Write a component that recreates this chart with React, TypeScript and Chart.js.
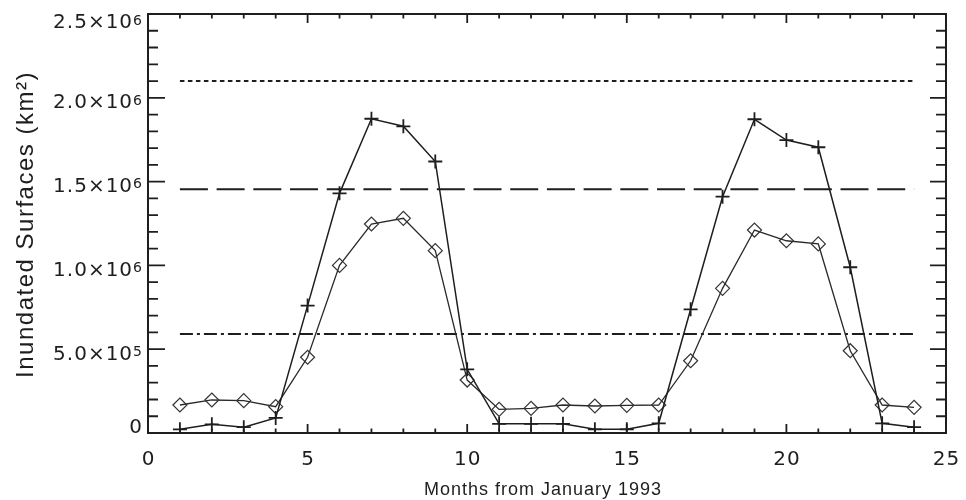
import React, { useEffect, useRef } from 'react';
import { Chart, registerables } from 'chart.js';

Chart.register(...registerables);

// ---- data ----
const months = [1, 2, 3, 4, 5, 6, 7, 8, 9, 10, 11, 12, 13, 14, 15, 16, 17, 18, 19, 20, 21, 22, 23, 24];
const plusSeries = [
  22000, 52000, 35000, 90000, 760000, 1430000, 1875000, 1830000, 1620000, 380000, 55000, 55000,
  55000, 22000, 22000, 58000, 738000, 1410000, 1872000, 1748000, 1705000, 989000, 58000, 35000,
];
const diamondSeries = [
  167000, 197000, 193000, 157000, 452000, 1000000, 1247000, 1281000, 1088000, 316000, 141000, 147000,
  167000, 161000, 165000, 167000, 431000, 863000, 1211000, 1147000, 1128000, 491000, 167000, 153000,
];
const refLevels = [2100000, 1455000, 590000];
const refRange = [1, 24];

const xTickValues = [0, 5, 10, 15, 20, 25];
const xTickLabels = ['0', '5', '10', '15', '20', '25'];
const yTickValues = [0, 500000, 1000000, 1500000, 2000000, 2500000];
const yTickLabels = ['0', '5.0×10⁵', '1.0×10⁶', '1.5×10⁶', '2.0×10⁶', '2.5×10⁶'];
const xMinorStep = 1;
const yMinorStep = 100000;
const xTitle = 'Months from January 1993';
const yTitle = 'Inundated Surfaces (km²)';

const INK = '#1e1e1e';
const SUP: Record<string, string> = {
  '⁰': '0', '¹': '1', '²': '2', '³': '3', '⁴': '4', '⁵': '5', '⁶': '6', '⁷': '7', '⁸': '8', '⁹': '9',
};

const axesPlugin = {
  id: 'idlAxes',
  beforeDatasetsDraw(chart: any) {
    const { ctx, chartArea: a, scales } = chart;
    const x = scales.x;
    const y = scales.y;
    ctx.save();
    ctx.strokeStyle = INK;
    ctx.lineWidth = 1.8;
    ctx.beginPath();
    const nx = Math.round((x.max - x.min) / xMinorStep);
    for (let i = 0; i <= nx; i++) {
      const v = x.min + i * xMinorStep;
      const px = x.getPixelForValue(v);
      const len = xTickValues.includes(v) ? 9 : 4.5;
      ctx.moveTo(px, a.bottom);
      ctx.lineTo(px, a.bottom - len);
      ctx.moveTo(px, a.top);
      ctx.lineTo(px, a.top + len);
    }
    const ny = Math.round((y.max - y.min) / yMinorStep);
    for (let i = 0; i <= ny; i++) {
      const v = y.min + i * yMinorStep;
      const py = y.getPixelForValue(v);
      const major = yTickValues.includes(v);
      ctx.moveTo(a.left, py);
      ctx.lineTo(a.left + (major ? 17 : 10), py);
      ctx.moveTo(a.right, py);
      ctx.lineTo(a.right - (major ? 16 : 10), py);
    }
    ctx.stroke();
    ctx.lineWidth = 2;
    ctx.strokeRect(a.left, a.top, a.right - a.left, a.bottom - a.top);

    ctx.fillStyle = INK;
    // x tick labels
    ctx.font = '20px "DejaVu Sans"';
    (ctx as any).letterSpacing = '1px';
    ctx.textAlign = 'center';
    ctx.textBaseline = 'alphabetic';
    xTickValues.forEach((v, i) => {
      ctx.fillText(xTickLabels[i], x.getPixelForValue(v) + 0.5, a.bottom + 31.5);
    });

    // y tick labels (mantissa + raised exponent)
    ctx.textAlign = 'left';
    const right = a.left - 5;
    yTickValues.forEach((v, i) => {
      const label = yTickLabels[i];
      const m = label.match(/^(.*?)([⁰¹²³⁴⁵⁶⁷⁸⁹]*)$/) as RegExpMatchArray;
      const mant = m[1];
      const exp = m[2].split('').map((c) => SUP[c]).join('');
      let off = 3;
      if (i === 0) off = -7;
      if (i === yTickValues.length - 1) off = 7;
      const base = y.getPixelForValue(v) + off + 7.3;
      ctx.font = '14px "DejaVu Sans"';
      const ew = exp ? ctx.measureText(exp).width : 0;
      ctx.font = '20px "DejaVu Sans"';
      const mw = ctx.measureText(mant).width;
      const start = right - ew - mw;
      ctx.fillText(mant, start, base);
      if (exp) {
        ctx.font = '14px "DejaVu Sans"';
        ctx.fillText(exp, start + mw, base - 3.5);
      }
    });

    // titles
    ctx.font = '18px "Liberation Sans"';
    (ctx as any).letterSpacing = '1px';
    ctx.textAlign = 'center';
    ctx.fillText(xTitle, (a.left + a.right) / 2 - 4, a.bottom + 61.5);

    ctx.save();
    ctx.font = '24px "Liberation Sans"';
    (ctx as any).letterSpacing = '1.5px';
    ctx.translate(33, (a.top + a.bottom) / 2 + 1);
    ctx.rotate(-Math.PI / 2);
    ctx.fillText(yTitle, 0, 0);
    ctx.restore();

    ctx.restore();
  },
};

export default function App() {
  const ref = useRef<HTMLCanvasElement | null>(null);

  useEffect(() => {
    document.body.style.margin = '0';
    const canvas = ref.current;
    if (!canvas) return;

    const refStyles = [
      { dash: [4.5, 3.5], width: 2 },
      { dash: [28, 8.7], width: 2 },
      { dash: [13, 4, 3, 4], width: 2 },
    ];

    const chart = new Chart(canvas, {
      type: 'line',
      data: {
        datasets: [
          {
            label: 'plus',
            data: months.map((m, i) => ({ x: m, y: plusSeries[i] })),
            borderColor: INK,
            borderWidth: 1.5,
            pointStyle: 'cross',
            pointRadius: 7,
            pointBorderWidth: 1.8,
            pointBorderColor: INK,
            backgroundColor: 'transparent',
            fill: false,
            tension: 0,
          },
          {
            label: 'diamond',
            data: months.map((m, i) => ({ x: m, y: diamondSeries[i] })),
            borderColor: '#2a2a2a',
            borderWidth: 1.3,
            pointStyle: 'rectRot',
            pointRadius: 7,
            pointBorderWidth: 1.2,
            pointBorderColor: '#333',
            pointBackgroundColor: 'transparent',
            backgroundColor: 'transparent',
            fill: false,
            tension: 0,
          },
          ...refLevels.map((lvl, i) => ({
            label: 'ref' + i,
            data: refRange.map((xv) => ({ x: xv, y: lvl })),
            borderColor: INK,
            borderWidth: refStyles[i].width,
            borderDash: refStyles[i].dash,
            pointRadius: 0,
            fill: false,
          })),
        ],
      },
      options: {
        responsive: false,
        animation: false,
        devicePixelRatio: 1,
        layout: { padding: { left: 148, top: 14, right: 20, bottom: 67 } },
        plugins: { legend: { display: false }, tooltip: { enabled: false } },
        scales: {
          x: { type: 'linear', min: 0, max: 25, display: false },
          y: { type: 'linear', min: 0, max: 2500000, display: false },
        },
      } as any,
      plugins: [axesPlugin],
    });
    return () => chart.destroy();
  }, []);

  return <canvas ref={ref} width={966} height={500} style={{ display: 'block' }} />;
}
